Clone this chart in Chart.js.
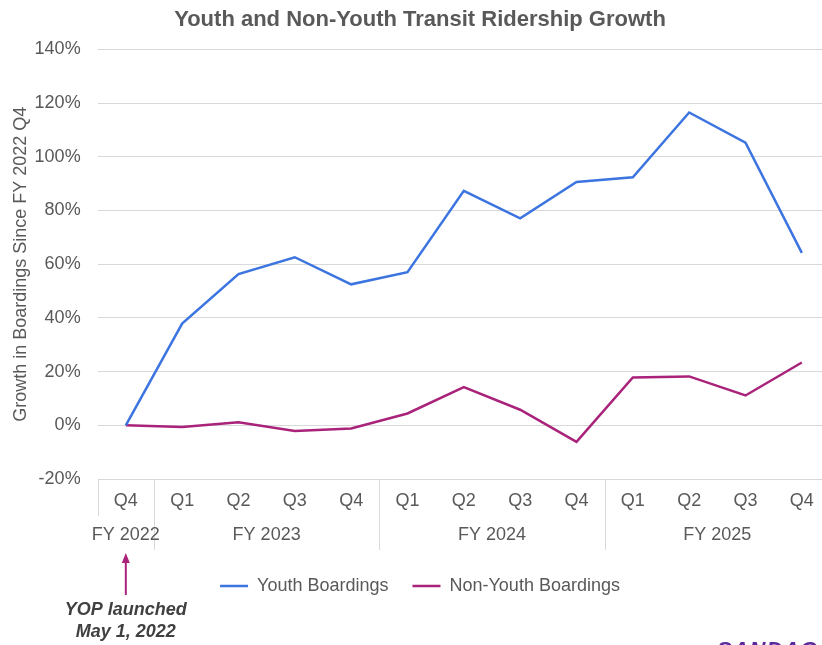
<!DOCTYPE html>
<html>
<head>
<meta charset="utf-8">
<script src="https://cdn.jsdelivr.net/npm/chart.js@4"></script>
<style>
  html, body { margin: 0; padding: 0; background: #fff; overflow: hidden; }
  #wrap { position: relative; width: 830px; height: 645px; }
  #logo { position: absolute; left: 717px; top: 637px; font: italic bold 22px "Liberation Sans", Arial, sans-serif; color: #5b2a9e; letter-spacing: 1px; }
</style>
</head>
<body>
<div id="wrap">
  <canvas id="ridershipChart" width="830" height="645"></canvas>
  <div id="logo">SANDAG</div>
</div>
<script>
const quarters = ['Q4', 'Q1', 'Q2', 'Q3', 'Q4', 'Q1', 'Q2', 'Q3', 'Q4', 'Q1', 'Q2', 'Q3', 'Q4']
const fiscalYears = [
    { label: 'FY 2022', from: 0, to: 0 },
    { label: 'FY 2023', from: 1, to: 4 },
    { label: 'FY 2024', from: 5, to: 8 },
    { label: 'FY 2025', from: 9, to: 12 },
]
const youthBoardings = [0, 37.9, 56.3, 62.6, 52.5, 57.0, 87.3, 77.1, 90.6, 92.4, 116.5, 105.3, 64.2]
const nonYouthBoardings = [0, -0.6, 1.1, -2.1, -1.2, 4.4, 14.2, 5.8, -6.2, 17.8, 18.2, 11.1, 23.4]
const yTicks = { min: -20, max: 140, step: 20 }

const textColor = '#595959'
const fontFamily = '"Liberation Sans", Arial, sans-serif'

// draws the fiscal year row, the separators and the launch note
const groupAxis = {
    id: 'groupAxis',
    afterDraw(chart) {
        const ctx = chart.ctx
        const x = chart.scales.x
        const top = chart.chartArea.bottom
        const half = (x.getPixelForValue(1) - x.getPixelForValue(0)) / 2
        ctx.save()
        ctx.strokeStyle = '#d9d9d9'
        ctx.lineWidth = 1
        fiscalYears.forEach((fy, i) => {
            const left = x.getPixelForValue(fy.from) - half
            const right = x.getPixelForValue(fy.to) + half
            const edges = i === 0 ? [left, right] : [right]
            edges.forEach((e, j) => {
                if (e > chart.width - 2) return
                const bottom = (i === 0 && j === 0) ? top + 37 : top + 71
                ctx.beginPath()
                ctx.moveTo(Math.round(e) + 0.5, top)
                ctx.lineTo(Math.round(e) + 0.5, bottom)
                ctx.stroke()
            })
            ctx.fillStyle = textColor
            ctx.font = '18px ' + fontFamily
            ctx.textAlign = 'center'
            ctx.textBaseline = 'middle'
            ctx.fillText(fy.label, (left + right) / 2, top + 56)
        })

        // arrow and note under the first quarter
        const ax = x.getPixelForValue(0)
        ctx.strokeStyle = '#a9237a'
        ctx.fillStyle = '#a9237a'
        ctx.lineWidth = 2
        ctx.beginPath()
        ctx.moveTo(ax, 595)
        ctx.lineTo(ax, 562)
        ctx.stroke()
        ctx.beginPath()
        ctx.moveTo(ax, 553)
        ctx.lineTo(ax - 4, 563)
        ctx.lineTo(ax + 4, 563)
        ctx.closePath()
        ctx.fill()

        ctx.fillStyle = '#404040'
        ctx.font = 'italic bold 18px ' + fontFamily
        ctx.textAlign = 'center'
        ctx.fillText('YOP launched', ax, 610)
        ctx.fillText('May 1, 2022', ax, 632)
        ctx.restore()
    }
}

const ctx = document.getElementById('ridershipChart').getContext('2d')

new Chart(ctx, {
    type: 'line',
    data: {
        labels: quarters,
        datasets: [{
            label: 'Youth Boardings',
            data: youthBoardings,
            borderColor: '#3c74e0',
            backgroundColor: '#3c74e0',
            borderWidth: 2.5,
            pointRadius: 0,
            tension: 0,
        }, {
            label: 'Non-Youth Boardings',
            data: nonYouthBoardings,
            borderColor: '#a9237a',
            backgroundColor: '#a9237a',
            borderWidth: 2.5,
            pointRadius: 0,
            tension: 0,
        }]
    },
    options: {
        responsive: false,
        animation: false,
        layout: { padding: { top: 0, right: 0, bottom: 40, left: 10 } },
        scales: {
            x: {
                offset: true,
                grid: { display: false },
                border: { display: false },
                ticks: {
                    color: textColor,
                    font: { family: fontFamily, size: 18 },
                    padding: 3,
                    maxRotation: 0,
                    autoSkip: false,
                },
                afterFit: (scale) => { scale.height = 74 }
            },
            y: {
                min: yTicks.min,
                max: yTicks.max,
                border: { display: false },
                grid: { color: '#d9d9d9', drawTicks: false },
                ticks: {
                    stepSize: yTicks.step,
                    color: textColor,
                    padding: 17,
                    font: { family: fontFamily, size: 18 },
                    callback: (v) => v + '%'
                },
                title: {
                    display: true,
                    text: 'Growth in Boardings Since FY 2022 Q4',
                    color: textColor,
                    font: { family: fontFamily, size: 18 },
                    padding: { top: 0, bottom: 4 }
                },
                afterFit: (scale) => { scale.width -= 18 }
            }
        },
        plugins: {
            title: {
                display: true,
                text: 'Youth and Non-Youth Transit Ridership Growth',
                color: textColor,
                font: { family: fontFamily, size: 22, weight: 'bold' },
                padding: { top: 7, bottom: 16 }
            },
            legend: {
                position: 'bottom',
                labels: {
                    color: textColor,
                    font: { family: fontFamily, size: 18 },
                    boxWidth: 28,
                    boxHeight: 0,
                    padding: 24,
                }
            },
            tooltip: { enabled: false }
        }
    },
    plugins: [groupAxis]
})
</script>
</body>
</html>
